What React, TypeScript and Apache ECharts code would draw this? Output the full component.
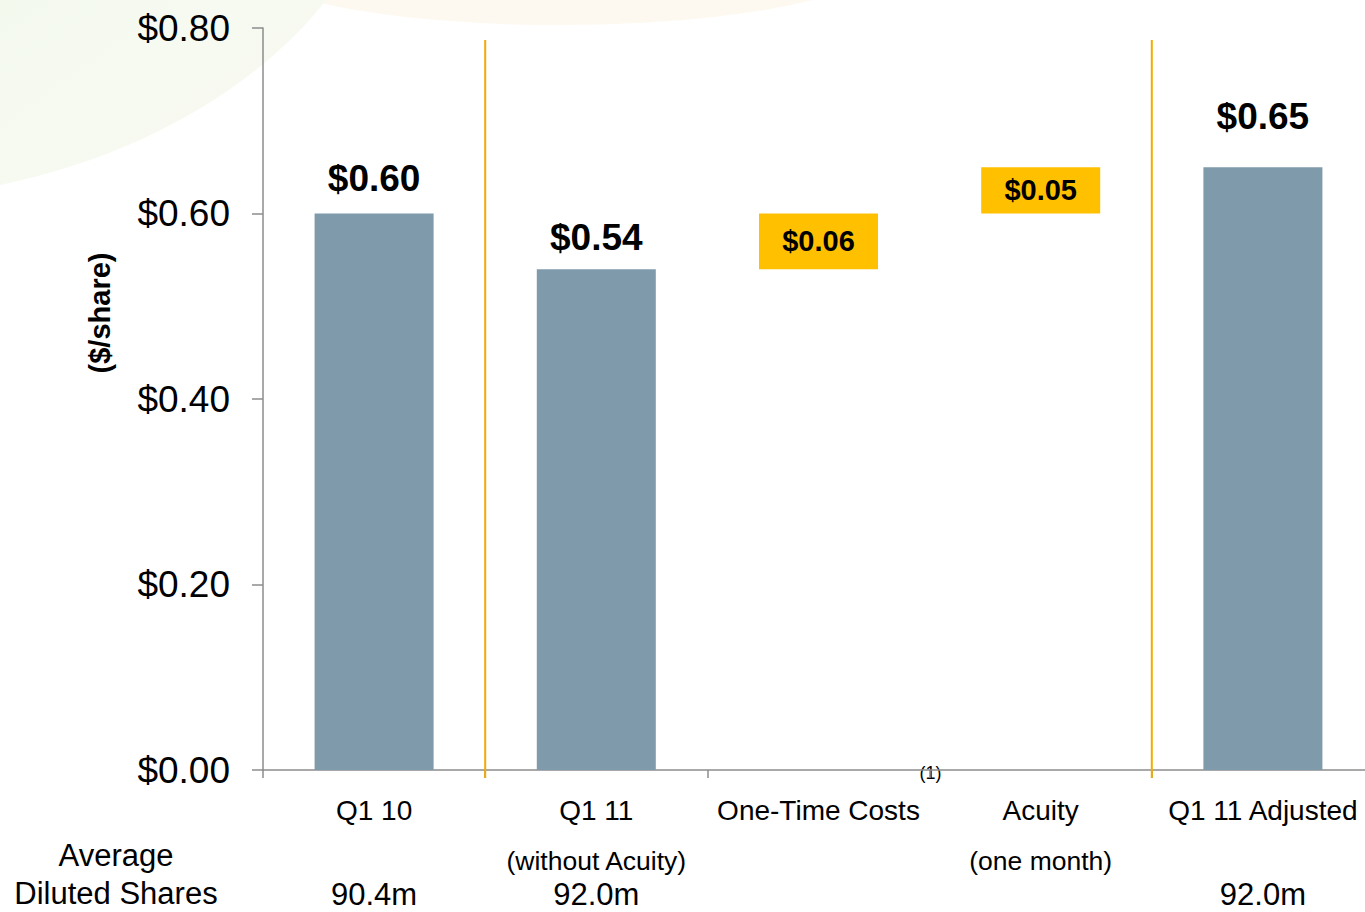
import React, { useEffect, useRef } from "react";
import * as echarts from "echarts";

const categories = ["Q1 10", "Q1 11", "One-Time Costs", "Acuity", "Q1 11 Adjusted"];
const subLabels = ["", "(without Acuity)", "", "(one month)", ""];
const sharesLabels = ["90.4m", "92.0m", "", "", "92.0m"];
const baseValues = [0, 0, 0.54, 0.6, 0];
const barValues = [0.6, 0.54, 0.06, 0.05, 0.65];
const isStep = [false, false, true, true, false];
const labelGaps = [17, 13, 0, 0, 32];
const yTicks = { min: 0, max: 0.8, interval: 0.2 };
const dividerAfter = [0, 3];

const FONT = "'Liberation Sans', Arial, Helvetica, sans-serif";
const GRAY_BAR = "#7f9aab";
const YELLOW = "#ffc000";
const ORANGE = "#f0ac00";
const AXIS = "#8c8c8c";

export default function App() {
  const ref = useRef<HTMLDivElement>(null);

  useEffect(() => {
    if (!ref.current) return;
    const chart = echarts.init(ref.current, null, { renderer: "svg" });

    const option: any = {
      animation: false,
      backgroundColor: "#ffffff",
      textStyle: { fontFamily: FONT },
      grid: { left: 263, right: 0, top: 28, bottom: 142, containLabel: false },
      xAxis: {
        type: "category",
        data: categories,
        axisLine: { show: true, lineStyle: { color: AXIS, width: 1.5 } },
        axisTick: { show: true, length: 8, lineStyle: { color: AXIS, width: 1.5 } },
        axisLabel: {
          margin: 7,
          interval: 0,
          color: "#000",
          fontFamily: FONT,
          formatter: (v: string, i: number) => {
            const sub = subLabels[i] || " ";
            const sh = sharesLabels[i] || " ";
            return `{a|${v}}\n{b|${sub}}\n{c|${sh}}`;
          },
          rich: {
            a: { fontSize: 28, lineHeight: 66, fontFamily: FONT, color: "#000" },
            b: { fontSize: 26.5, lineHeight: 36, fontFamily: FONT, color: "#000" },
            c: { fontSize: 31, lineHeight: 30, fontFamily: FONT, color: "#000" },
          },
        },
        splitLine: { show: false },
      },
      yAxis: {
        type: "value",
        min: yTicks.min,
        max: yTicks.max,
        interval: yTicks.interval,
        axisLine: { show: true, lineStyle: { color: AXIS, width: 1.5 } },
        axisTick: { show: true, length: 11, lineStyle: { color: AXIS, width: 1.5 } },
        axisLabel: {
          margin: 33,
          color: "#000",
          fontSize: 37,
          fontFamily: FONT,
          formatter: (v: number) => "$" + v.toFixed(2),
        },
        splitLine: { show: false },
      },
      series: [
        {
          type: "bar",
          stack: "w",
          barWidth: 119,
          silent: true,
          itemStyle: { color: "transparent" },
          data: baseValues,
        },
        {
          type: "bar",
          stack: "w",
          barWidth: 119,
          data: barValues.map((v, i) => ({
            value: v,
            itemStyle: { color: isStep[i] ? YELLOW : GRAY_BAR },
            label: isStep[i]
              ? {
                  show: true,
                  position: "inside",
                  fontSize: 29,
                  fontWeight: "bold",
                  color: "#000",
                  fontFamily: FONT,
                  formatter: () => "$" + v.toFixed(2),
                }
              : {
                  show: true,
                  position: "top",
                  distance: labelGaps[i],
                  fontSize: 37,
                  fontWeight: "bold",
                  color: "#000",
                  fontFamily: FONT,
                  formatter: () => "$" + v.toFixed(2),
                },
          })),
        },
      ],
    };

    chart.setOption(option);

    const lines = dividerAfter.map((i) => {
      const a = chart.convertToPixel({ xAxisIndex: 0 }, categories[i]) as number;
      const b = chart.convertToPixel({ xAxisIndex: 0 }, categories[i + 1]) as number;
      const x = (a + b) / 2;
      return {
        type: "line",
        shape: { x1: x, y1: 40, x2: x, y2: 778 },
        style: { stroke: ORANGE, lineWidth: 2 },
        z: 10,
      };
    });
    const oneTimeX = chart.convertToPixel({ xAxisIndex: 0 }, categories[2]) as number;

    chart.setOption({
      graphic: [
        {
          type: "ellipse",
          shape: { cx: -150, cy: -200, rx: 550, ry: 400 },
          style: {
            fill: {
              type: "linear",
              x: 0,
              y: 0,
              x2: 1,
              y2: 1,
              colorStops: [
                { offset: 0.4, color: "#eef6e6" },
                { offset: 0.8, color: "#f6faf1" },
                { offset: 1, color: "#fbf8ee" },
              ],
            },
          },
          z: -10,
          silent: true,
        },
        {
          type: "ellipse",
          shape: { cx: 560, cy: -40, rx: 320, ry: 65 },
          style: { fill: "#fdf7ea", opacity: 0.7 },
          z: -11,
          silent: true,
        },
        ...lines,
        {
          type: "text",
          x: 100,
          y: 313,
          rotation: Math.PI / 2,
          style: {
            text: "($/share)",
            fontSize: 29,
            fontWeight: "bold",
            fontFamily: FONT,
            fill: "#000",
            align: "center",
            verticalAlign: "middle",
          },
        },
        {
          type: "text",
          x: oneTimeX + 112,
          y: 773,
          style: {
            text: "(1)",
            fontSize: 18,
            fontFamily: FONT,
            fill: "#000",
            align: "center",
            verticalAlign: "middle",
          },
        },
        {
          type: "text",
          x: 116,
          y: 855,
          style: {
            text: "Average",
            fontSize: 31,
            fontFamily: FONT,
            fill: "#000",
            align: "center",
            verticalAlign: "middle",
          },
        },
        {
          type: "text",
          x: 116,
          y: 893,
          style: {
            text: "Diluted Shares",
            fontSize: 31,
            fontFamily: FONT,
            fill: "#000",
            align: "center",
            verticalAlign: "middle",
          },
        },
      ],
    });

    return () => chart.dispose();
  }, []);

  return (
    <div
      ref={ref}
      style={{ position: "fixed", left: 0, top: 0, width: 1374, height: 912 }}
    />
  );
}
